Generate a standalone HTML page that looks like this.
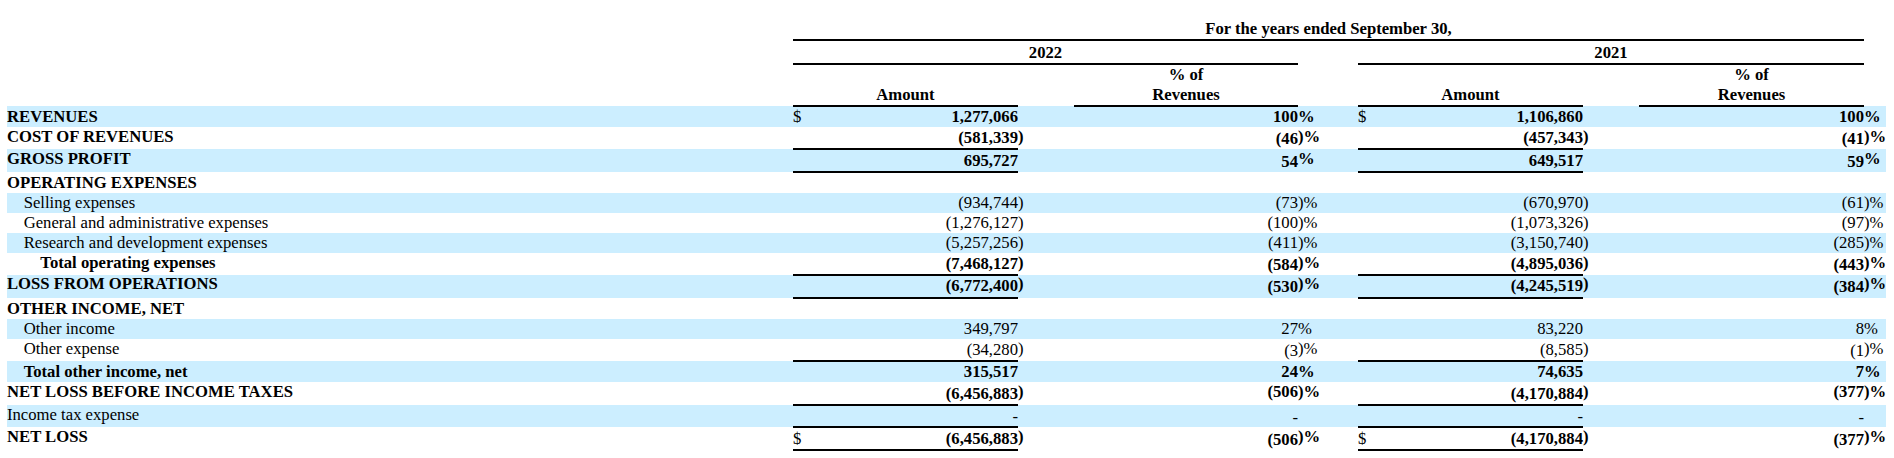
<!DOCTYPE html>
<html><head><meta charset="utf-8"><style>
html,body{margin:0;padding:0;background:#fff;}
body{width:1894px;height:458px;position:relative;overflow:hidden;}
.t{position:absolute;font-family:"Liberation Serif","Times New Roman",serif;font-size:16.667px;line-height:20px;white-space:nowrap;color:#000;}
.r{width:400px;text-align:right;}
.c{width:600px;text-align:center;}
.b{position:absolute;}
</style></head><body>
<div class="b" style="left:7px;top:106px;width:1879px;height:21px;background:#CCEEFF"></div>
<div class="b" style="left:7px;top:149px;width:1879px;height:23px;background:#CCEEFF"></div>
<div class="b" style="left:7px;top:193px;width:1879px;height:20px;background:#CCEEFF"></div>
<div class="b" style="left:7px;top:233px;width:1879px;height:20px;background:#CCEEFF"></div>
<div class="b" style="left:7px;top:275px;width:1879px;height:23px;background:#CCEEFF"></div>
<div class="b" style="left:7px;top:319px;width:1879px;height:20px;background:#CCEEFF"></div>
<div class="b" style="left:7px;top:361px;width:1879px;height:21px;background:#CCEEFF"></div>
<div class="b" style="left:7px;top:405px;width:1879px;height:22px;background:#CCEEFF"></div>
<div class="b" style="left:793px;top:39px;width:1071px;height:2px;background:#000"></div>
<div class="b" style="left:793px;top:63px;width:505px;height:2px;background:#000"></div>
<div class="b" style="left:1358px;top:63px;width:506px;height:2px;background:#000"></div>
<div class="b" style="left:793px;top:105px;width:225px;height:2px;background:#000"></div>
<div class="b" style="left:1074px;top:105px;width:224px;height:2px;background:#000"></div>
<div class="b" style="left:1358px;top:105px;width:225px;height:2px;background:#000"></div>
<div class="b" style="left:1639px;top:105px;width:225px;height:2px;background:#000"></div>
<div class="b" style="left:793px;top:148px;width:225px;height:2px;background:#000"></div>
<div class="b" style="left:1358px;top:148px;width:225px;height:2px;background:#000"></div>
<div class="b" style="left:793px;top:171px;width:225px;height:2px;background:#000"></div>
<div class="b" style="left:1358px;top:171px;width:225px;height:2px;background:#000"></div>
<div class="b" style="left:793px;top:274px;width:225px;height:2px;background:#000"></div>
<div class="b" style="left:1358px;top:274px;width:225px;height:2px;background:#000"></div>
<div class="b" style="left:793px;top:297px;width:225px;height:2px;background:#000"></div>
<div class="b" style="left:1358px;top:297px;width:225px;height:2px;background:#000"></div>
<div class="b" style="left:793px;top:360px;width:225px;height:2px;background:#000"></div>
<div class="b" style="left:1358px;top:360px;width:225px;height:2px;background:#000"></div>
<div class="b" style="left:793px;top:404px;width:225px;height:2px;background:#000"></div>
<div class="b" style="left:1358px;top:404px;width:225px;height:2px;background:#000"></div>
<div class="b" style="left:793px;top:426px;width:225px;height:2px;background:#000"></div>
<div class="b" style="left:1358px;top:426px;width:225px;height:2px;background:#000"></div>
<div class="b" style="left:793px;top:449px;width:225px;height:2px;background:#000"></div>
<div class="b" style="left:1358px;top:449px;width:225px;height:2px;background:#000"></div>
<div class="t c" style="left:1028.5px;top:19px;font-weight:bold;">For the years ended September 30,</div>
<div class="t c" style="left:745.5px;top:43px;font-weight:bold;">2022</div>
<div class="t c" style="left:1311px;top:43px;font-weight:bold;">2021</div>
<div class="t c" style="left:605.5px;top:85px;font-weight:bold;">Amount</div>
<div class="t c" style="left:1170.5px;top:85px;font-weight:bold;">Amount</div>
<div class="t c" style="left:886px;top:65px;font-weight:bold;">% of</div>
<div class="t c" style="left:886px;top:85px;font-weight:bold;">Revenues</div>
<div class="t c" style="left:1451.5px;top:65px;font-weight:bold;">% of</div>
<div class="t c" style="left:1451.5px;top:85px;font-weight:bold;">Revenues</div>
<div class="t" style="left:7px;top:107px;font-weight:bold;">REVENUES</div>
<div class="t r" style="left:618px;top:107px;font-weight:bold;">1,277,066</div>
<div class="t r" style="left:898px;top:107px;font-weight:bold;">100</div>
<div class="t" style="left:1298px;top:107px;font-weight:bold;">%</div>
<div class="t r" style="left:1183px;top:107px;font-weight:bold;">1,106,860</div>
<div class="t r" style="left:1464px;top:107px;font-weight:bold;">100</div>
<div class="t" style="left:1864px;top:107px;font-weight:bold;">%</div>
<div class="t" style="left:793px;top:107px;">$</div>
<div class="t" style="left:1358px;top:107px;">$</div>
<div class="t" style="left:7px;top:127px;font-weight:bold;">COST OF REVENUES</div>
<div class="t r" style="left:618px;top:127.5px;font-weight:bold;">(581,339</div>
<div class="t" style="left:1018px;top:127px;font-weight:bold;">)</div>
<div class="t r" style="left:898px;top:129px;font-weight:bold;">(46</div>
<div class="t" style="left:1298px;top:127px;font-weight:bold;">)%</div>
<div class="t r" style="left:1183px;top:127.5px;font-weight:bold;">(457,343</div>
<div class="t" style="left:1583px;top:127px;font-weight:bold;">)</div>
<div class="t r" style="left:1464px;top:129px;font-weight:bold;">(41</div>
<div class="t" style="left:1864px;top:127px;font-weight:bold;">)%</div>
<div class="t" style="left:7px;top:149px;font-weight:bold;">GROSS PROFIT</div>
<div class="t r" style="left:618px;top:151px;font-weight:bold;">695,727</div>
<div class="t r" style="left:898px;top:152px;font-weight:bold;">54</div>
<div class="t" style="left:1298px;top:149px;font-weight:bold;">%</div>
<div class="t r" style="left:1183px;top:151px;font-weight:bold;">649,517</div>
<div class="t r" style="left:1464px;top:152px;font-weight:bold;">59</div>
<div class="t" style="left:1864px;top:149px;font-weight:bold;">%</div>
<div class="t" style="left:7px;top:173px;font-weight:bold;">OPERATING EXPENSES</div>
<div class="t" style="left:23.67px;top:193px;">Selling expenses</div>
<div class="t r" style="left:618px;top:193px;">(934,744</div>
<div class="t" style="left:1018px;top:193px;">)</div>
<div class="t r" style="left:898px;top:193px;">(73</div>
<div class="t" style="left:1298px;top:193px;">)%</div>
<div class="t r" style="left:1183px;top:193px;">(670,970</div>
<div class="t" style="left:1583px;top:193px;">)</div>
<div class="t r" style="left:1464px;top:193px;">(61</div>
<div class="t" style="left:1864px;top:193px;">)%</div>
<div class="t" style="left:23.67px;top:213px;">General and administrative expenses</div>
<div class="t r" style="left:618px;top:213px;">(1,276,127</div>
<div class="t" style="left:1018px;top:213px;">)</div>
<div class="t r" style="left:898px;top:213px;">(100</div>
<div class="t" style="left:1298px;top:213px;">)%</div>
<div class="t r" style="left:1183px;top:213px;">(1,073,326</div>
<div class="t" style="left:1583px;top:213px;">)</div>
<div class="t r" style="left:1464px;top:213px;">(97</div>
<div class="t" style="left:1864px;top:213px;">)%</div>
<div class="t" style="left:23.67px;top:233px;">Research and development expenses</div>
<div class="t r" style="left:618px;top:233px;">(5,257,256</div>
<div class="t" style="left:1018px;top:233px;">)</div>
<div class="t r" style="left:898px;top:233px;">(411</div>
<div class="t" style="left:1298px;top:233px;">)%</div>
<div class="t r" style="left:1183px;top:233px;">(3,150,740</div>
<div class="t" style="left:1583px;top:233px;">)</div>
<div class="t r" style="left:1464px;top:233px;">(285</div>
<div class="t" style="left:1864px;top:233px;">)%</div>
<div class="t" style="left:40.33px;top:253px;font-weight:bold;">Total operating expenses</div>
<div class="t r" style="left:618px;top:254px;font-weight:bold;">(7,468,127</div>
<div class="t" style="left:1018px;top:253px;font-weight:bold;">)</div>
<div class="t r" style="left:898px;top:255px;font-weight:bold;">(584</div>
<div class="t" style="left:1298px;top:253px;font-weight:bold;">)%</div>
<div class="t r" style="left:1183px;top:254px;font-weight:bold;">(4,895,036</div>
<div class="t" style="left:1583px;top:253px;font-weight:bold;">)</div>
<div class="t r" style="left:1464px;top:255px;font-weight:bold;">(443</div>
<div class="t" style="left:1864px;top:253px;font-weight:bold;">)%</div>
<div class="t" style="left:7px;top:274px;font-weight:bold;">LOSS FROM OPERATIONS</div>
<div class="t r" style="left:618px;top:276px;font-weight:bold;">(6,772,400</div>
<div class="t" style="left:1018px;top:274px;font-weight:bold;">)</div>
<div class="t r" style="left:898px;top:277px;font-weight:bold;">(530</div>
<div class="t" style="left:1298px;top:274px;font-weight:bold;">)%</div>
<div class="t r" style="left:1183px;top:276px;font-weight:bold;">(4,245,519</div>
<div class="t" style="left:1583px;top:274px;font-weight:bold;">)</div>
<div class="t r" style="left:1464px;top:277px;font-weight:bold;">(384</div>
<div class="t" style="left:1864px;top:274px;font-weight:bold;">)%</div>
<div class="t" style="left:7px;top:299px;font-weight:bold;">OTHER INCOME, NET</div>
<div class="t" style="left:23.67px;top:319px;">Other income</div>
<div class="t r" style="left:618px;top:319px;">349,797</div>
<div class="t r" style="left:898px;top:319px;">27</div>
<div class="t" style="left:1298px;top:319px;">%</div>
<div class="t r" style="left:1183px;top:319px;">83,220</div>
<div class="t r" style="left:1464px;top:319px;">8</div>
<div class="t" style="left:1864px;top:319px;">%</div>
<div class="t" style="left:23.67px;top:339px;">Other expense</div>
<div class="t r" style="left:618px;top:340px;">(34,280</div>
<div class="t" style="left:1018px;top:339px;">)</div>
<div class="t r" style="left:898px;top:341px;">(3</div>
<div class="t" style="left:1298px;top:339px;">)%</div>
<div class="t r" style="left:1183px;top:340px;">(8,585</div>
<div class="t" style="left:1583px;top:339px;">)</div>
<div class="t r" style="left:1464px;top:341px;">(1</div>
<div class="t" style="left:1864px;top:339px;">)%</div>
<div class="t" style="left:23.67px;top:362px;font-weight:bold;">Total other income, net</div>
<div class="t r" style="left:618px;top:362px;font-weight:bold;">315,517</div>
<div class="t r" style="left:898px;top:362px;font-weight:bold;">24</div>
<div class="t" style="left:1298px;top:362px;font-weight:bold;">%</div>
<div class="t r" style="left:1183px;top:362px;font-weight:bold;">74,635</div>
<div class="t r" style="left:1464px;top:362px;font-weight:bold;">7</div>
<div class="t" style="left:1864px;top:362px;font-weight:bold;">%</div>
<div class="t" style="left:7px;top:382px;font-weight:bold;">NET LOSS BEFORE INCOME TAXES</div>
<div class="t r" style="left:618px;top:384px;font-weight:bold;">(6,456,883</div>
<div class="t" style="left:1018px;top:382px;font-weight:bold;">)</div>
<div class="t r" style="left:898px;top:382px;font-weight:bold;">(506</div>
<div class="t" style="left:1298px;top:382px;font-weight:bold;">)%</div>
<div class="t r" style="left:1183px;top:384px;font-weight:bold;">(4,170,884</div>
<div class="t" style="left:1583px;top:382px;font-weight:bold;">)</div>
<div class="t r" style="left:1464px;top:382px;font-weight:bold;">(377</div>
<div class="t" style="left:1864px;top:382px;font-weight:bold;">)%</div>
<div class="t" style="left:7px;top:405px;">Income tax expense</div>
<div class="t r" style="left:618px;top:407px;">-</div>
<div class="t r" style="left:898px;top:408px;">-</div>
<div class="t r" style="left:1183px;top:407px;">-</div>
<div class="t r" style="left:1464px;top:408px;">-</div>
<div class="t" style="left:7px;top:427px;font-weight:bold;">NET LOSS</div>
<div class="t r" style="left:618px;top:429px;font-weight:bold;">(6,456,883</div>
<div class="t" style="left:1018px;top:427px;font-weight:bold;">)</div>
<div class="t r" style="left:898px;top:430px;font-weight:bold;">(506</div>
<div class="t" style="left:1298px;top:427px;font-weight:bold;">)%</div>
<div class="t r" style="left:1183px;top:429px;font-weight:bold;">(4,170,884</div>
<div class="t" style="left:1583px;top:427px;font-weight:bold;">)</div>
<div class="t r" style="left:1464px;top:430px;font-weight:bold;">(377</div>
<div class="t" style="left:1864px;top:427px;font-weight:bold;">)%</div>
<div class="t" style="left:793px;top:429px;">$</div>
<div class="t" style="left:1358px;top:429px;">$</div>
</body></html>
